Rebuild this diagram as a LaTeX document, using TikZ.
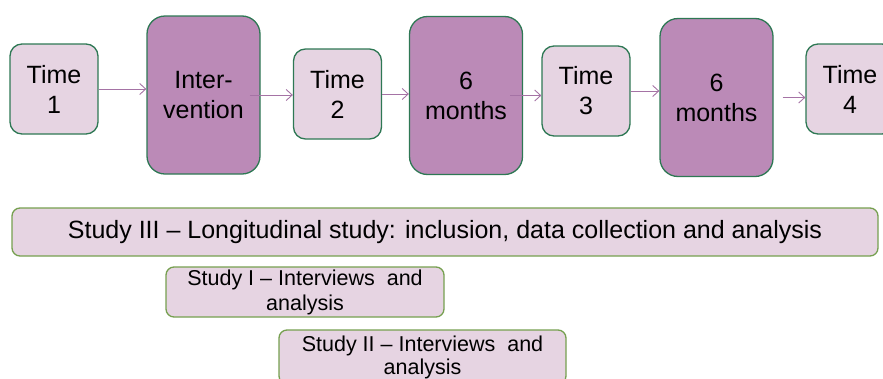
\documentclass[tikz,border=0pt]{standalone}
\usepackage{fontspec}
\setmainfont{Liberation Sans}
\usetikzlibrary{shapes, arrows.meta, positioning}
\definecolor{lightmauve}{RGB}{230,212,226}
\definecolor{darkmauve}{RGB}{187,138,183}
\definecolor{boxgreen}{RGB}{46,120,84}
\definecolor{studygreen}{RGB}{118,160,80}
\definecolor{arrowmauve}{RGB}{165,115,165}
\tikzstyle{timebox} =
        [
                rectangle,
                draw = boxgreen,
                fill = lightmauve,
                line width = 1.3pt,
                minimum width = 88pt,
                minimum height = 90pt,
                rounded corners = 12pt,
                align = center,
                font = \fontsize{25}{30}\selectfont
        ]
\tikzstyle{phase} =
        [
                timebox,
                fill = darkmauve,
                minimum width = 113pt,
                minimum height = 158pt,
                rounded corners = 18pt
        ]
\tikzstyle{study} =
        [
                rectangle,
                draw = studygreen,
                fill = lightmauve,
                line width = 1.3pt,
                rounded corners = 8pt,
                align = center,
                inner sep = 0pt,
                font = \fontsize{21.5}{25}\selectfont
        ]
\tikzstyle{line} =
        [
                draw = arrowmauve,
                line width = 0.9pt,
                -{Straight Barb[length = 6pt, width = 11pt]}
        ]
\begin{document}
\begin{tikzpicture}[x = 1pt, y = -1pt]
        \useasboundingbox (0,0) rectangle (883,378);
        \node [timebox] (t1) at (54,89) {Time\\1};
        \node [phase] (int) at (203.5,95) {Inter-\\vention};
        \node [timebox] (t2) at (337.5,94) {Time\\2};
        \node [phase] (wait1) at (466,95.5) {6\\months};
        \node [timebox] (t3) at (586,91) {Time\\3};
        \node [phase] (wait2) at (716.5,97.5) {6\\months};
        \node [timebox] (t4) at (850,89) {Time\\4};

        \node [study, minimum width = 866pt, minimum height = 48pt, font = \fontsize{25}{29}\selectfont] (study3) at (445,232) {Study III -- Longitudinal study: inclusion, data collection and analysis};
        \node [study, minimum width = 278pt, minimum height = 50pt] (study1) at (305,292) {Study I -- Interviews~ and\\analysis};
        \node [study, minimum width = 287pt, minimum height = 54pt, font = \fontsize{21.5}{23}\selectfont] (study2) at (422.5,357) {Study II -- Interviews~ and\\analysis};

        \path [line] (t1.east) -- (t1.east -| int.west);
        \path [line, shorten <= -11pt] (int.east) -- (int.east -| t2.west);
        \path [line] (t2.east) -- (t2.east -| wait1.west);
        \path [line, shorten <= -13pt] (wait1.east) -- (wait1.east -| t3.west);
        \path [line] (t3.east) -- (t3.east -| wait2.west);
        \path [line, shorten <= 9pt] (wait2.east) -- (wait2.east -| t4.west);
\end{tikzpicture}
\end{document}
